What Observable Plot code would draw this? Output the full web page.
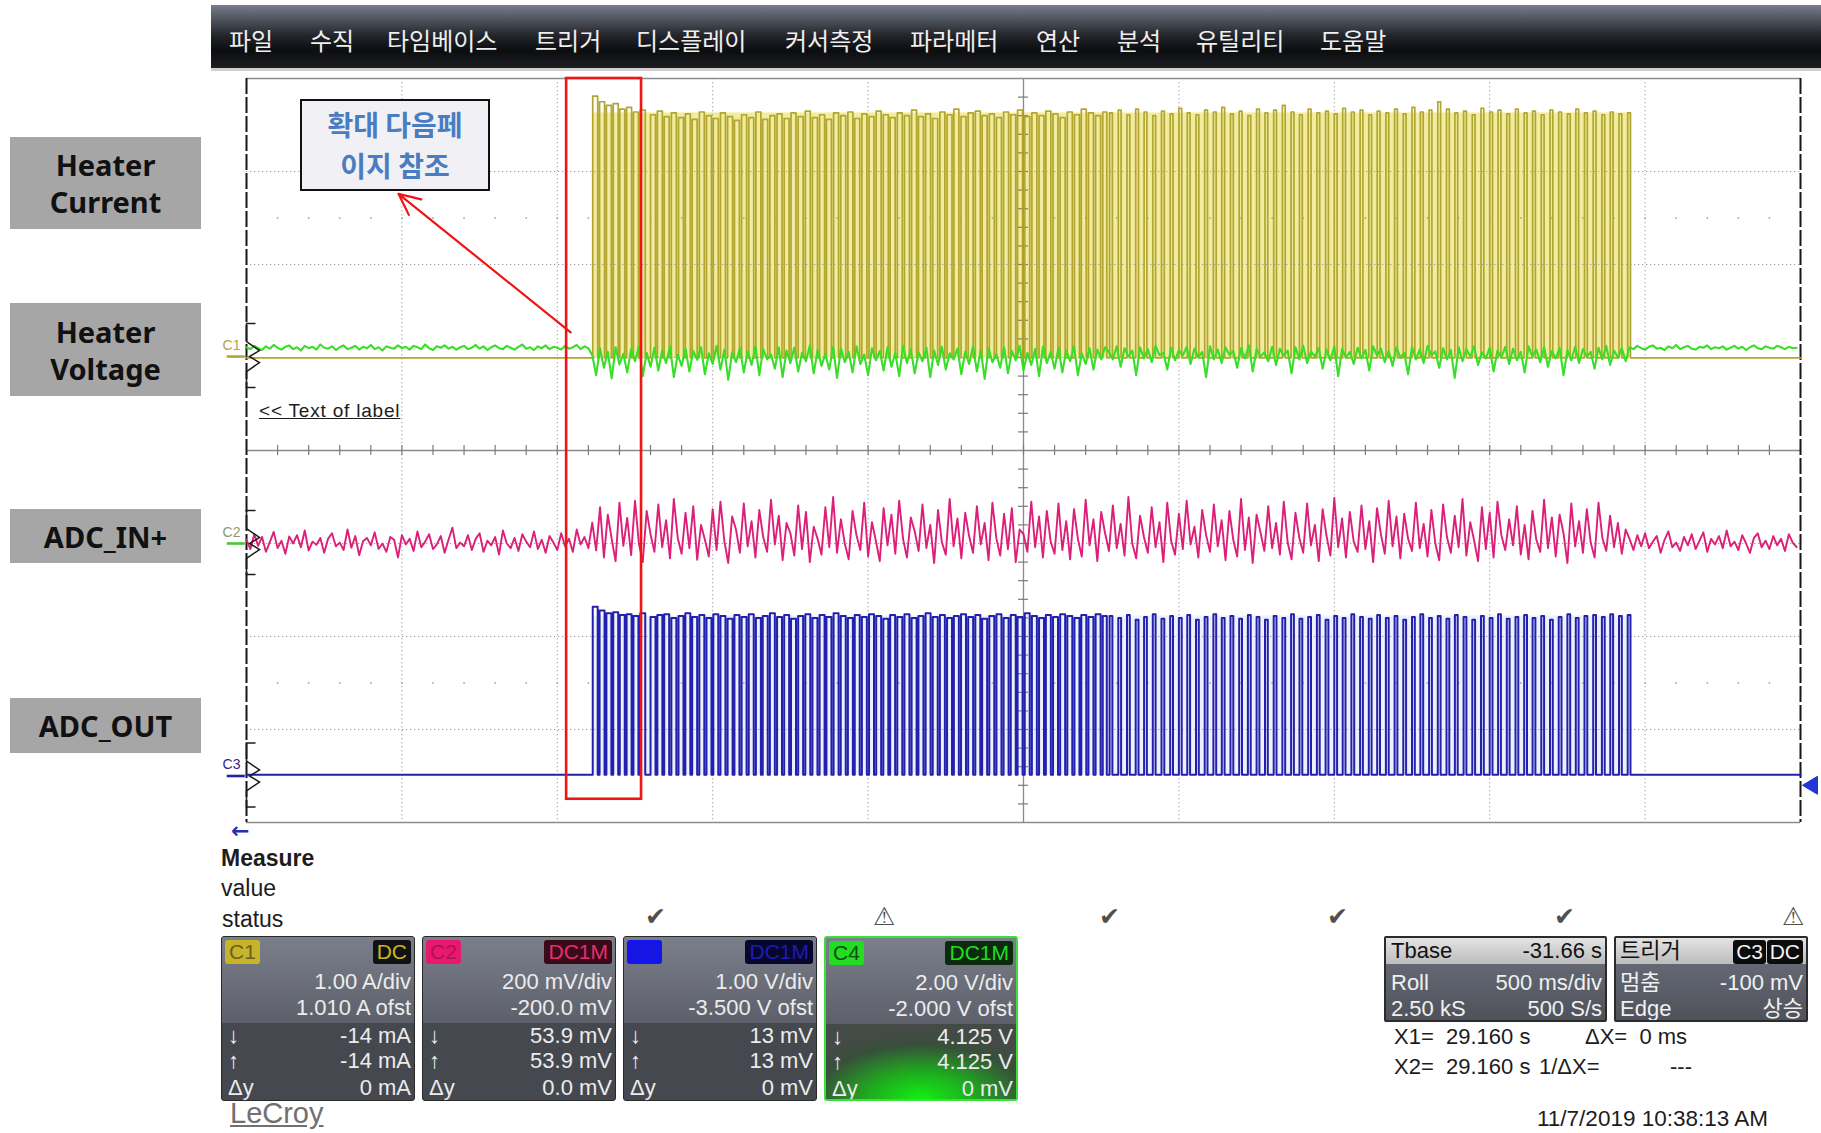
<!DOCTYPE html>
<html>
<head>
<meta charset="utf-8">
<script src="https://cdn.jsdelivr.net/npm/d3@7"></script>
<script src="https://cdn.jsdelivr.net/npm/@observablehq/plot@0.6"></script>
<style>
html,body{margin:0;padding:0;background:#fff;}
#page{position:relative;width:1821px;height:1133px;overflow:hidden;font-family:"Liberation Sans","Noto Sans CJK KR",Arial,sans-serif;}
#chart{position:absolute;left:0;top:0;z-index:1;}
.menubar{position:absolute;z-index:2;left:211px;top:5px;width:1610px;height:63px;background:linear-gradient(to bottom,#777d8d 0%,#50555f 22%,#24262c 48%,#0c0d0f 72%,#1d1e22 100%);border-bottom:3px solid #cfcfcf;}
.menubar span{position:absolute;top:0;line-height:69px;font-family:"Noto Sans CJK KR",sans-serif;font-size:24px;color:#efefef;white-space:nowrap;}
.lbl{position:absolute;z-index:2;left:10px;width:191px;background:#a6a6a6;color:#111;font-family:"Noto Sans",sans-serif;font-weight:700;font-size:29px;line-height:37px;display:flex;align-items:center;justify-content:center;text-align:center;}
.callout{position:absolute;z-index:3;left:300px;top:99px;width:190px;height:92px;box-sizing:border-box;border:2px solid #111;background:#f1f1f5;color:#4a7cc2;font-family:"Noto Sans CJK KR",sans-serif;font-weight:700;font-size:28px;line-height:41px;text-align:center;padding-top:3px;}
.chbox{position:absolute;z-index:2;top:936px;width:194px;height:165px;background:#46484f;border-radius:3px;overflow:hidden;color:#ececec;font-size:22px;box-sizing:border-box;border:1px solid #2a2a2a;}
.chbox .up{position:absolute;left:0;right:0;top:0;height:86px;background:linear-gradient(#7b7f8b,#5d606a);}
.chbox .glow{position:absolute;left:0;right:0;top:86px;bottom:0;background:radial-gradient(ellipse 70% 90% at 50% 100%,#12f012 0%,#1faa1f 40%,#37503a 80%,#444a46 100%);}
.row{position:absolute;left:0;right:3px;height:26px;line-height:26px;}
.row .l{position:absolute;left:6px;}
.row .r{position:absolute;right:0;}
.tag{position:absolute;top:3px;height:24px;line-height:24px;padding:0 4px;border-radius:3px;font-size:21px;}
.ibox{position:absolute;z-index:2;top:936px;height:86px;box-sizing:border-box;background:linear-gradient(#6e727e,#4f525b);border:2px solid #2b2b2b;border-radius:2px;color:#f0f0f0;font-size:22px;overflow:hidden;}
.ibox .hd{position:absolute;left:0;right:0;top:0;height:26px;background:linear-gradient(#e4e4e4,#bcbcbc);}
.txt{position:absolute;z-index:2;white-space:nowrap;color:#1c1c1c;font-size:22px;line-height:26px;}
.mark{position:absolute;z-index:2;color:#505050;font-family:"DejaVu Sans",sans-serif;font-size:25px;line-height:28px;}
</style>
</head>
<body>
<div id="page">
  <div id="chart"></div>
  <div class="menubar" id="menubar"></div>
  <div class="lbl" style="top:137px;height:92px;">Heater<br>Current</div>
  <div class="lbl" style="top:303px;height:93px;">Heater<br>Voltage</div>
  <div class="lbl" style="top:509px;height:54px;">ADC_IN+</div>
  <div class="lbl" style="top:698px;height:55px;">ADC_OUT</div>
  <div class="callout">확대 다음페<br>이지 참조</div>
  <div class="txt" style="left:259px;top:398px;font-size:19px;letter-spacing:0.8px;text-decoration:underline;">&lt;&lt; Text of label</div>
  <div class="txt" style="left:231px;top:818px;color:#2330b0;font-family:'DejaVu Sans';font-weight:700;font-size:22px;">←</div>
  <div class="txt" style="left:221px;top:845px;font-weight:700;font-size:23px;">Measure</div>
  <div class="txt" style="left:221px;top:875px;font-size:23px;">value</div>
  <div class="txt" style="left:222px;top:906px;font-size:23px;">status</div>
  <div id="marks"></div>
  <div id="panels"></div>
  <div class="ibox" style="left:1384px;width:223px;">
    <div class="hd"></div>
    <div class="row" style="top:0;color:#111;"><span class="l" style="left:5px;">Tbase</span><span class="r">-31.66 s</span></div>
    <div class="row" style="top:32px;"><span class="l" style="left:5px;">Roll</span><span class="r">500 ms/div</span></div>
    <div class="row" style="top:58px;"><span class="l" style="left:5px;">2.50 kS</span><span class="r">500 S/s</span></div>
  </div>
  <div class="ibox" style="left:1614px;width:194px;">
    <div class="hd"></div>
    <div class="row" style="top:0;color:#111;"><span class="l" style="left:4px;">트리거</span></div>
    <span class="tag" style="right:40px;top:2px;background:#0c0c0c;color:#f2f2f2;padding:0 3px;">C3</span>
    <span class="tag" style="right:3px;top:2px;background:#0c0c0c;color:#f2f2f2;padding:0 3px;">DC</span>
    <div class="row" style="top:32px;"><span class="l" style="left:4px;">멈춤</span><span class="r">-100 mV</span></div>
    <div class="row" style="top:58px;"><span class="l" style="left:4px;">Edge</span><span class="r">상승</span></div>
  </div>
  <div class="txt" style="left:1394px;top:1024px;">X1=&nbsp; 29.160 s</div>
  <div class="txt" style="left:1585px;top:1024px;">ΔX=&nbsp; 0 ms</div>
  <div class="txt" style="left:1394px;top:1054px;">X2=&nbsp; 29.160 s</div>
  <div class="txt" style="left:1539px;top:1054px;">1/ΔX=</div>
  <div class="txt" style="left:1670px;top:1054px;">---</div>
  <div class="txt" style="left:1537px;top:1106px;font-size:22.5px;">11/7/2019 10:38:13 AM</div>
  <div class="txt" style="left:230px;top:1097px;font-size:29px;line-height:32px;color:#707070;text-decoration:underline;">LeCroy</div>
</div>
<script>
// ---------------- data ----------------
const menuItems = ["파일","수직","타임베이스","트리거","디스플레이","커서측정","파라메터","연산","분석","유틸리티","도움말"];

const channels    = ["C1","C2","C3","C4"];
const chScale     = [1.00, 0.200, 1.00, 2.00];      // units per division
const chOffset    = [1.010, -0.200, -3.500, -2.000]; // offset
const chCoupling  = ["DC","DC1M","DC1M","DC1M"];
const chScaleText = ["1.00 A/div","200 mV/div","1.00 V/div","2.00 V/div"];
const chOfstText  = ["1.010 A ofst","-200.0 mV","-3.500 V ofst","-2.000 V ofst"];
const cursorDown  = ["-14 mA","53.9 mV","13 mV","4.125 V"];
const cursorUp    = ["-14 mA","53.9 mV","13 mV","4.125 V"];
const cursorDelta = ["0 mA","0.0 mV","0 mV","0 mV"];
const triggerLevel = -0.100; // V on C3

const timeDivs = [0,0.5,1,1.5,2,2.5,3,3.5,4,4.5,5]; // s (500 ms/div)
const vertDivs = [-4,-3,-2,-1,0,1,2,3,4];

// pulse train (ms) shared by heater current (C1) and ADC_OUT (C3)
const pulseRise = [1114,1136,1158,1180,1201,1223,1245,1267,1300,1322,1344,1367,1390,1412,1434,1457,1480,1502,1525,1548,
1570,1593,1616,1639,1661,1684,1707,1730,1752,1775,1798,1821,1844,1866,1889,1912,1935,1957,1980,2003,
2026,2049,2071,2094,2117,2140,2162,2185,2208,2231,2254,2276,2299,2322,2345,2367,2390,2413,2436,2459,
2481,2504,2527,2550,2572,2595,2618,2641,2664,2686,2709,2732,2755,
2777,2805,2833,2861,2888,2916,2944,2972,3000,3027,3055,3083,3111,3138,3166,3194,3222,3250,3277,3305,
3333,3361,3388,3416,3444,3472,3500,3527,3555,3583,3611,3638,3666,3694,3722,3750,3777,3805,3833,3861,
3888,3916,3944,3972,4000,4027,4055,4083,4111,4138,4166,4194,4222,4250,4277,4305,4333,4361,4388,4416,4444];
const pulseFall = [1130,1152,1174,1196,1217,1239,1261,1283,1316,1338,1360,1383,1406,1428,1450,1473,1496,1518,1541,1564,
1586,1609,1632,1655,1677,1700,1723,1746,1768,1791,1814,1837,1860,1882,1905,1928,1951,1973,1996,2019,
2042,2065,2087,2110,2133,2156,2178,2201,2224,2247,2270,2292,2315,2338,2361,2383,2406,2429,2452,2475,
2497,2520,2543,2566,2588,2611,2634,2657,2680,2702,2725,2748,2768,
2786,2814,2842,2870,2897,2925,2953,2981,3009,3036,3064,3092,3120,3147,3175,3203,3231,3259,3286,3314,
3342,3370,3397,3425,3453,3481,3509,3536,3564,3592,3620,3647,3675,3703,3731,3759,3786,3814,3842,3870,
3897,3925,3953,3981,4009,4036,4064,4092,4120,4147,4175,4203,4231,4259,4286,4314,4342,4370,4397,4425,4453];
const c1Peak = [2.80,2.74,2.70,2.72,2.66,2.68,2.63,2.65,2.60,2.64,2.58,2.62,2.57,2.61,2.55,2.63,2.59,2.56,2.62,2.58,
2.54,2.60,2.57,2.63,2.55,2.59,2.61,2.56,2.62,2.58,2.64,2.57,2.60,2.55,2.62,2.59,2.63,2.56,2.61,2.58,
2.64,2.60,2.57,2.62,2.59,2.65,2.58,2.61,2.56,2.63,2.60,2.66,2.58,2.62,2.64,2.59,2.61,2.57,2.63,2.60,
2.65,2.58,2.62,2.59,2.64,2.61,2.57,2.63,2.60,2.66,2.62,2.59,2.63,
2.62,2.65,2.60,2.66,2.63,2.59,2.64,2.61,2.67,2.62,2.60,2.65,2.63,2.68,2.61,2.64,2.59,2.66,2.62,2.65,
2.70,2.63,2.60,2.66,2.62,2.64,2.61,2.67,2.63,2.65,2.60,2.64,2.62,2.66,2.61,2.68,2.63,2.65,2.74,2.66,
2.62,2.64,2.60,2.67,2.63,2.65,2.61,2.66,2.62,2.64,2.60,2.65,2.63,2.61,2.66,2.62,2.64,2.60,2.63,2.61,2.62]; // A
const c3Peak = [1.82,1.78,1.75,1.76,1.73,1.74,1.72,1.75,1.71,1.73,1.74,1.70,1.72,1.75,1.71,1.73,1.70,1.74,1.72,1.69,
1.73,1.71,1.74,1.70,1.72,1.75,1.71,1.73,1.69,1.72,1.74,1.70,1.73,1.71,1.75,1.72,1.70,1.73,1.71,1.74,
1.72,1.69,1.73,1.71,1.74,1.70,1.72,1.75,1.71,1.73,1.70,1.72,1.74,1.71,1.73,1.69,1.72,1.74,1.70,1.73,
1.71,1.75,1.72,1.70,1.73,1.71,1.74,1.72,1.70,1.73,1.71,1.74,1.72,
1.72,1.70,1.73,1.68,1.71,1.74,1.69,1.72,1.70,1.73,1.68,1.71,1.74,1.70,1.72,1.69,1.73,1.71,1.68,1.72,
1.70,1.74,1.69,1.71,1.73,1.68,1.72,1.70,1.74,1.71,1.69,1.73,1.70,1.72,1.68,1.71,1.74,1.70,1.72,1.69,
1.73,1.71,1.68,1.72,1.70,1.74,1.69,1.71,1.73,1.70,1.72,1.68,1.71,1.74,1.70,1.72,1.73,1.71,1.74,1.72,1.73]; // V
const c1Low = -0.014; // A
const c3Low = 0.013;  // V

// sampled traces, one value every 12.5 ms
const sampleStep = 0.0125;
const c2Samples = [ // ADC_IN+ (mV)
8,-12,20,-5,14,-18,3,25,-10,6,-22,15,0,18,-8,28,-15,4,-3,12,
-20,10,22,-6,2,-14,30,-9,16,-25,5,12,-4,24,-12,0,-18,14,8,-30,
18,-2,10,-16,26,-8,4,20,-12,-2,16,-20,8,34,-10,2,-6,18,-14,10,
22,-18,6,-4,14,-24,28,0,-10,12,-16,20,4,-8,26,-12,8,-20,16,2,
-14,22,-6,10,-18,30,-2,14,-10,
45,-15,78,-30,62,10,-38,88,-5,55,-25,92,0,-40,70,20,-18,84,-8,50,
-32,96,12,-22,66,-10,80,-35,40,8,-28,74,-14,90,5,-42,58,30,-20,86,
-6,48,-30,72,14,-18,94,-2,60,-36,44,22,-26,82,-12,68,-40,36,10,-24,
78,-8,100,-20,52,0,-34,70,18,-14,88,-28,46,6,-38,76,-4,62,-22,92,
10,-30,56,26,-16,84,-10,40,-42,72,2,-24,96,-6,54,-32,66,16,-20,80,
-2,44,-36,88,12,-26,64,-12,76,-40,30,20,-18,90,-8,58,-30,70,4,-22,
86,-14,48,-34,74,10,-28,94,-4,52,-38,68,22,-16,82,-10,42,-26,100,0,
-32,60,14,-20,78,-8,46,-40,88,6,-24,64,-12,92,-2,36,-30,72,18,-18,
84,-6,50,-36,70,8,-28,96,-14,56,-42,62,24,-16,80,-10,44,-24,90,2,
-34,66,12,-20,86,-4,40,-38,74,16,-26,98,-8,54,-30,68,4,-18,82,-12,
48,-40,76,20,-22,92,-6,58,-32,64,10,-16,88,-10,42,-28,72,0,-36,84,
14,-20,60,-8,96,-26,46,6,-38,78,-12,66,-30,90,18,-14,52,-4,80,-24,
40,-34,70,8,-18,94,-10,56,-28,62,22,-42,86,-6,48,-20,74,2,-30,88,
12,-16,60,-8,44,-22,30,
10,-14,18,-6,22,-10,4,16,-20,8,26,-8,2,-16,14,-4,20,-12,6,24,
-18,10,-2,16,-10,28,-6,4,-14,18,0,-20,12,22,-8,6,-12,16,-4,10,
-16,20,2,-8];
const c4Samples = [ // Heater voltage (V)
4.22,4.18,4.25,4.20,4.16,4.24,4.19,4.27,4.21,4.17,4.23,4.26,4.18,4.22,4.15,4.25,4.20,4.23,4.17,4.28,
4.21,4.19,4.24,4.16,4.22,4.26,4.18,4.21,4.25,4.17,4.23,4.20,4.27,4.18,4.22,4.15,4.24,4.21,4.19,4.26,
4.20,4.23,4.17,4.25,4.22,4.18,4.28,4.20,4.16,4.24,4.21,4.26,4.19,4.23,4.17,4.22,4.25,4.18,4.21,4.27,
4.19,4.24,4.16,4.22,4.26,4.20,4.18,4.25,4.21,4.17,4.23,4.28,4.19,4.22,4.16,4.24,4.20,4.26,4.18,4.23,
4.21,4.17,4.25,4.19,4.22,4.27,4.18,4.24,4.20,
4.05,3.62,4.20,3.78,4.12,3.55,4.22,3.85,4.08,3.68,4.18,3.92,4.24,3.60,4.10,3.80,4.21,3.72,4.15,3.88,
4.23,3.58,4.06,3.82,4.19,3.70,4.14,3.95,4.22,3.64,4.09,3.86,4.25,3.74,4.17,3.52,4.11,3.90,4.20,3.68,
4.13,3.84,4.24,3.62,4.18,3.96,4.07,3.76,4.22,3.58,4.15,3.88,4.21,3.70,4.10,3.92,4.26,3.66,4.16,3.82,
4.08,3.74,4.23,3.56,4.19,3.90,4.12,3.68,4.24,3.86,4.06,3.62,4.20,3.94,4.14,3.72,4.22,3.80,4.10,3.60,
4.25,3.88,4.17,3.66,4.11,3.92,4.21,3.58,4.15,3.84,4.23,3.74,4.09,3.96,4.19,3.64,4.13,3.86,4.24,3.70,
4.16,3.54,4.20,3.90,4.07,3.78,4.22,3.66,4.14,3.94,4.25,3.72,4.10,3.84,4.18,3.60,4.23,3.88,4.12,3.76,
4.21,3.68,4.15,3.92,4.24,3.62,4.09,3.86,4.20,3.74,4.17,3.96,4.22,
4.12,3.96,4.24,3.80,4.20,4.02,4.15,3.62,4.22,3.98,4.18,3.90,4.25,4.05,4.10,3.74,4.21,3.94,4.16,4.04,
4.23,3.86,4.19,4.00,4.12,3.58,4.24,3.96,4.17,3.88,4.22,4.06,4.14,3.78,4.20,3.98,4.26,3.70,4.18,4.02,
4.11,3.92,4.23,3.84,4.19,4.04,4.15,3.66,4.22,3.96,4.25,3.88,4.13,4.02,4.20,3.76,4.17,3.94,4.24,3.60,
4.18,4.00,4.12,3.86,4.21,3.98,4.16,3.72,4.24,4.04,4.19,3.90,4.14,3.82,4.22,4.00,4.10,3.64,4.23,3.96,
4.17,3.88,4.25,4.04,4.13,3.78,4.20,3.96,4.16,3.56,4.22,3.92,4.18,4.02,4.24,3.84,4.11,3.98,4.21,3.70,
4.15,4.00,4.23,3.86,4.19,3.94,4.12,3.68,4.24,4.02,4.17,3.90,4.22,3.80,4.14,3.98,4.20,3.62,4.16,3.94,
4.23,3.88,4.18,4.02,4.12,3.76,4.21,3.96,4.25,3.84,4.15,4.00,4.20,3.92,
4.22,4.18,4.25,4.20,4.17,4.23,4.26,4.19,4.21,4.16,4.24,4.20,4.27,4.18,4.22,4.25,4.19,4.17,4.23,4.21,
4.26,4.18,4.22,4.20,4.24,4.17,4.21,4.25,4.19,4.23,4.16,4.22,4.26,4.20,4.18,4.24,4.21,4.19,4.25,4.22,
4.18,4.23,4.20,4.21];

// annotations (data units: seconds / divisions)
const zoomWindow = [{t1:1.030, t2:1.271, y1:-3.75, y2:4.0}];
const calloutArrow = [{t1:1.043, y1:1.27, t2:0.489, y2:2.76}];

// ---------------- styles ----------------
const col = {c1:"#b3a531", c1fill:"#f1ec9e", c2:"#dc1f78", c3:"#2121ad", c3fill:"#eef0fb", c4:"#38de28", red:"#f01414", grid:"#9c9c9c"};

// ---------------- build ----------------
const toDiv = (ch, v) => (v + chOffset[ch]) / chScale[ch];

function stepTrace(ch, low, peaks) {
  const lo = toDiv(ch, low);
  const pts = [{t:0, y:lo}];
  pulseRise.forEach((r, i) => {
    const hi = toDiv(ch, peaks[i]);
    const f = pulseFall[i];
    pts.push({t:r/1000,y:lo},{t:r/1000,y:hi},{t:f/1000,y:hi},{t:f/1000,y:lo});
  });
  pts.push({t:5, y:lo});
  return pts;
}
const c1Trace = stepTrace(0, c1Low, c1Peak);
const c3Trace = stepTrace(2, c3Low, c3Peak);
const c2Trace = c2Samples.map((mv, i) => ({t:i*sampleStep, y:toDiv(1, mv/1000)}));
const c4Trace = c4Samples.map((v, i) => ({t:i*sampleStep, y:toDiv(3, v)}));

const burstT1 = pulseRise[0]/1000, burstT2 = pulseFall[pulseFall.length-1]/1000;
const c1Fill = [{t1:burstT1, t2:burstT2, y1:toDiv(0,c1Low), y2:toDiv(0,d3.median(c1Peak))}];
const c3Fill = [{t1:burstT1, t2:burstT2, y1:toDiv(2,c3Low), y2:toDiv(2,d3.median(c3Peak))}];

const xMinor = d3.range(1, 50).map(i => i/10);
const yMinor = d3.range(-19, 20).filter(i => i !== 0).map(i => i/5);
const midDots = xMinor.flatMap(t => [{t, y:2.5}, {t, y:-2.5}]);

const markers = [
  {ch:0, label:"C1", color:"#b0a43a", line:col.c1},
  {ch:1, label:"C2", color:"#8a9a70", line:"#45c838"},
  {ch:2, label:"C3", color:"#2a2a8a", line:col.c3}
].map(d => ({...d, y: toDiv(d.ch, 0)}));
const trig = [{y: toDiv(2, triggerLevel)}];

const bracketSymbol = {draw(ctx){ctx.moveTo(9,-33);ctx.lineTo(0,-33);ctx.lineTo(0,-15);ctx.lineTo(13,-6);ctx.lineTo(3,0);ctx.lineTo(13,6);ctx.lineTo(0,15);ctx.lineTo(0,31);ctx.lineTo(9,31);}};
const triSymbol = {draw(ctx){ctx.moveTo(2,0);ctx.lineTo(17,-9);ctx.lineTo(17,9);ctx.closePath();}};

const plot = Plot.plot({
  width: 1821, height: 1133,
  marginLeft: 246, marginRight: 21, marginTop: 78, marginBottom: 311,
  x: {domain: [0, 5], axis: null},
  y: {domain: [-4, 4], axis: null},
  style: {background: "transparent", overflow: "visible"},
  marks: [
    Plot.rect(c1Fill, {x1:"t1", x2:"t2", y1:"y1", y2:"y2", fill: col.c1fill}),
    Plot.rect(c3Fill, {x1:"t1", x2:"t2", y1:"y1", y2:"y2", fill: col.c3fill}),
    Plot.ruleX(timeDivs.filter(d => d > 0 && d < 5 && d !== 2.5), {stroke: col.grid, strokeDasharray: "1.3,2.7"}),
    Plot.ruleY(vertDivs.filter(d => d > -4 && d < 4 && d !== 0), {stroke: col.grid, strokeDasharray: "1.3,2.7"}),
    Plot.dot(midDots, {x:"t", y:"y", r:0.9, fill:"#aaaaaa", stroke:null}),
    Plot.ruleX([2.5], {stroke:"#8a8a8a", strokeWidth:1.3}),
    Plot.ruleY([0], {stroke:"#8a8a8a", strokeWidth:1.3}),
    Plot.ruleX(xMinor, {x: d => d, y1: () => -0.055, y2: () => 0.055, stroke:"#7a7a7a", strokeWidth:1.2}),
    Plot.ruleY(yMinor, {y: d => d, x1: () => 2.484, x2: () => 2.516, stroke:"#7a7a7a", strokeWidth:1.2}),
    Plot.ruleY([-4, 4], {stroke:"#8c8c8c", strokeWidth:1.6}),
    Plot.ruleX([0, 5], {stroke:"#161616", strokeWidth:2, strokeDasharray:"16,3"}),
    Plot.line(c1Trace, {x:"t", y:"y", stroke: col.c1, strokeWidth: 1.7}),
    Plot.line(c4Trace, {x:"t", y:"y", stroke: col.c4, strokeWidth: 2.1}),
    Plot.line(c2Trace, {x:"t", y:"y", stroke: col.c2, strokeWidth: 1.9}),
    Plot.line(c3Trace, {x:"t", y:"y", stroke: col.c3, strokeWidth: 2.0}),
    Plot.ruleY(markers, {y:"y", x1: () => -0.062, x2: () => -0.004, stroke:"line", strokeWidth:2.6}),
    Plot.dot(markers, {x: () => 0, y:"y", symbol: bracketSymbol, r: 5, fill:"none", stroke:"#1c1c1c", strokeWidth:1.5}),
    Plot.text(markers, {x: () => 0, y:"y", text:"label", fill:"color", dx:-15, dy:-11, fontSize:14, fontFamily:"Liberation Sans"}),
    Plot.dot(trig, {x: () => 5, y:"y", symbol: triSymbol, r: 5, fill:"#2236d6", stroke:"#2236d6", strokeWidth:1}),
    Plot.rect(zoomWindow, {x1:"t1", x2:"t2", y1:"y1", y2:"y2", fill:"none", stroke: col.red, strokeWidth: 2.6}),
    Plot.arrow(calloutArrow, {x1:"t1", y1:"y1", x2:"t2", y2:"y2", stroke: col.red, strokeWidth: 2.2, headLength: 16, headAngle: 50})
  ]
});
document.getElementById("chart").append(plot);

// ---------------- HTML panels ----------------
const menuX = [229,310,387,535,636,785,910,1036,1117,1196,1320];
document.getElementById("menubar").innerHTML = menuItems.map((m, i) => `<span style="left:${menuX[i]-211}px">${m}</span>`).join("");

const boxLeft = [221, 422, 623, 824];
const tagStyle = [
  {bg:"#c8b42a", fg:"#6a6020", cbg:"#121212", cfg:"#c8b42a"},
  {bg:"#e8186e", fg:"#b01058", cbg:"#3a0a18", cfg:"#e0306e"},
  {bg:"#1414ec", fg:"#1a1ad0", cbg:"#07072e", cfg:"#1c1cb0"},
  {bg:"#22dd22", fg:"#0f4a0f", cbg:"#0c2a0c", cfg:"#22dd22"}
];
document.getElementById("panels").innerHTML = channels.map((c, i) => {
  const s = tagStyle[i];
  const c4 = i === 3;
  return `<div class="chbox" style="left:${boxLeft[i]}px;${c4 ? "border:2px solid #3be03b;" : ""}">
    <div class="up"></div>${c4 ? '<div class="glow"></div>' : ""}
    <span class="tag" style="left:3px;background:${s.bg};color:${s.fg};">${c}</span>
    <span class="tag" style="right:3px;background:${s.cbg};color:${s.cfg};">${chCoupling[i]}</span>
    <div class="row" style="top:32px;"><span class="r">${chScaleText[i]}</span></div>
    <div class="row" style="top:58px;"><span class="r">${chOfstText[i]}</span></div>
    <div class="row" style="top:86px;"><span class="l">↓</span><span class="r">${cursorDown[i]}</span></div>
    <div class="row" style="top:111px;"><span class="l">↑</span><span class="r">${cursorUp[i]}</span></div>
    <div class="row" style="top:138px;"><span class="l">Δy</span><span class="r">${cursorDelta[i]}</span></div>
  </div>`;
}).join("");

const checkX = [657, 1111, 1339, 1566];
const warnX = [885, 1794];
document.getElementById("marks").innerHTML =
  checkX.map(x => `<div class="mark" style="left:${x-12}px;top:903px;">✔</div>`).join("") +
  warnX.map(x => `<div class="mark" style="left:${x-12}px;top:903px;">⚠</div>`).join("");
</script>
</body>
</html>
